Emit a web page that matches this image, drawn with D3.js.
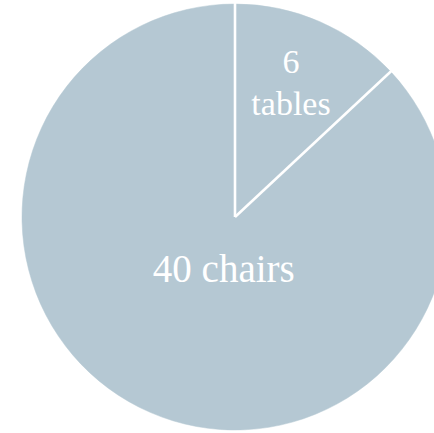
<!DOCTYPE html>
<html>
<head>
<meta charset="utf-8">
<script src="https://cdn.jsdelivr.net/npm/d3@7"></script>
<style>
  html, body { margin: 0; padding: 0; background: #ffffff; }
  svg { display: block; }
</style>
</head>
<body>
<script>
// Data
const categories = ["tables", "chairs"];
const counts = [6, 40];

const W = 434, H = 433;
const cx = 235, cy = 217, R = 213;
const fillColor = "#b5c8d3";

const svg = d3.select("body").append("svg")
  .attr("width", W).attr("height", H);

const g = svg.append("g").attr("transform", `translate(${cx},${cy})`);

const pie = d3.pie().sort(null).value(d => d.value);
const data = pie(categories.map((c, i) => ({ name: c, value: counts[i] })));

const arc = d3.arc().innerRadius(0).outerRadius(R);

g.selectAll("path.slice")
  .data(data)
  .join("path")
  .attr("class", "slice")
  .attr("d", arc)
  .attr("fill", fillColor)
  .attr("stroke", fillColor)
  .attr("stroke-width", 0.5);

// radial separators
data.forEach(d => {
  const a = d.startAngle;
  g.append("line")
    .attr("x1", 0).attr("y1", 0)
    .attr("x2", Math.sin(a) * (R + 2)).attr("y2", -Math.cos(a) * (R + 2))
    .attr("stroke", "#ffffff").attr("stroke-width", 2.6);
});

const font = "'Liberation Serif', 'DejaVu Serif', serif";

// tables label (two lines)
{
  const d = data[0];
  const lr = 0.66 * R;
  const c = d3.arc().innerRadius(lr).outerRadius(lr).centroid(d);
  const t = g.append("text")
    .attr("text-anchor", "middle")
    .attr("fill", "#ffffff")
    .style("font-family", font)
    .style("font-size", "34px");
  t.append("tspan").attr("x", c[0]).attr("y", c[1] - 15).text(d.data.value);
  t.append("tspan").attr("x", c[0]).attr("y", c[1] + 27).text(d.data.name);
}

// chairs label (one line)
{
  const d = data[1];
  const lr = 0.25 * R;
  const c = d3.arc().innerRadius(lr).outerRadius(lr).centroid(d);
  g.append("text")
    .attr("text-anchor", "middle")
    .attr("fill", "#ffffff")
    .attr("x", c[0] + 10)
    .attr("y", c[1] + 16)
    .style("font-family", font)
    .style("font-size", "39px")
    .text(d.data.value + " " + d.data.name);
}
</script>
</body>
</html>
